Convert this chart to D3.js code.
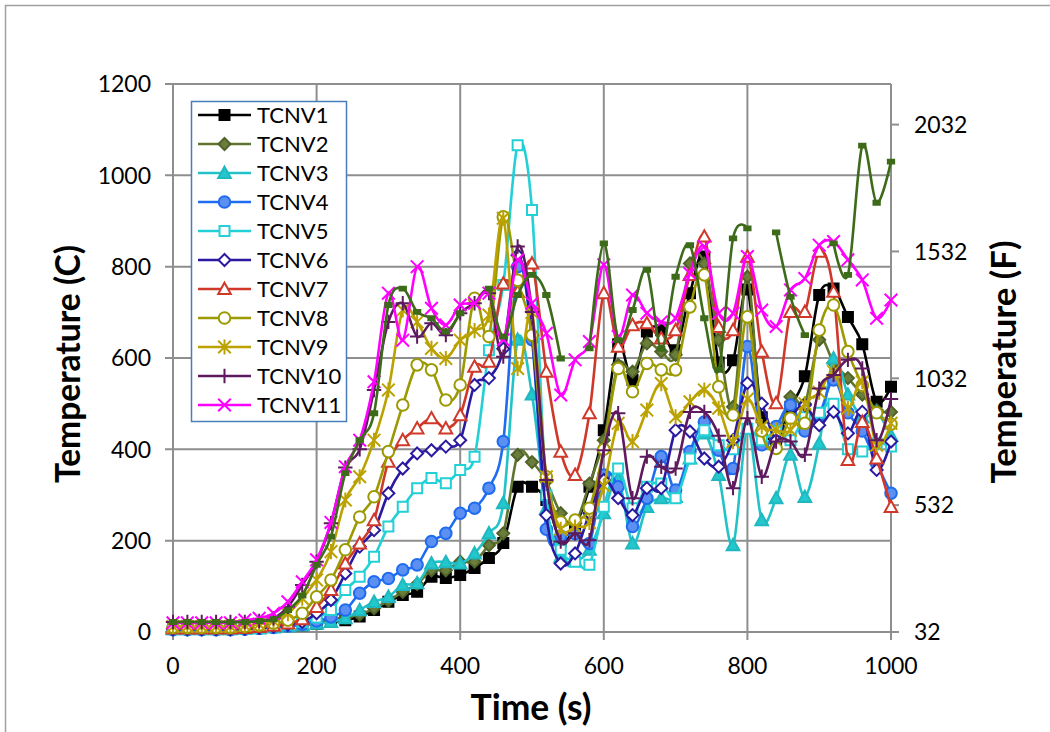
<!DOCTYPE html>
<html><head><meta charset="utf-8">
<script src="https://cdn.jsdelivr.net/npm/d3@7"></script>
<style>
body{margin:0;background:#fff;}
svg{display:block;}
text{font-family:Lato,"Open Sans",sans-serif;fill:#000;}
</style>
</head><body>
<svg id="chart" width="1050" height="732"></svg>
<script>
// ---------------- DATA ----------------
const time = [0,20,40,60,80,100,120,140,160,180,200,220,240,260,280,300,320,340,360,380,400,420,440,460,480,500,520,540,560,580,600,620,640,660,680,700,720,740,760,780,800,820,840,860,880,900,920,940,960,980,1000];

const tcnv1 = [10,10,10,10,10,10,11,12,13,15, 18,22,26,34,48,66,81,88,121,118, 125,140,162,195,318,318,289,200,230,318, 442,630,552,658,661,617,742,822,590,595, 750,470,420,493,560,738,752,690,630,504,537];
const tcnv2 = [8,8,8,8,8,9,10,12,14,17, 21,26,32,38,52,68,88,105,135,135, 154,154,190,216,388,372,330,260,238,325, 420,585,570,632,614,607,807,807,640,493, 778,440,420,515,500,640,590,556,520,486,482];
const tcnv3 = [6,6,6,6,6,7,8,10,12,15, 18,22,30,48,66,77,103,107,150,153, 150,172,216,282,640,520,270,165,155,180, 260,336,194,274,293,296,380,435,344,190, 446,245,293,388,296,413,599,520,470,480,430];
const tcnv4 = [5,5,5,5,5,6,8,10,13,17, 24,33,48,85,110,117,136,147,198,216, 260,271,315,417,800,640,225,210,215,194, 344,318,231,293,384,311,395,460,398,358, 625,410,450,497,440,475,552,480,440,369,304];
const tcnv5 = [6,6,6,6,6,7,9,12,16,22, 32,48,92,121,165,231,274,315,337,326, 355,384,617,760,1066,924,300,180,154,147, 274,358,271,318,325,293,380,442,409,400, 445,420,440,420,470,480,500,400,395,413,406];
const tcnv6 = [6,6,6,6,6,7,9,12,16,22, 41,70,128,187,223,304,358,391,398,406, 420,541,556,620,825,650,256,150,172,260, 333,293,256,315,315,442,439,380,362,420, 545,500,420,470,497,453,482,435,482,355,417];
const tcnv7 = [8,8,8,8,8,9,11,14,19,28, 55,92,150,194,245,373,420,446,468,446, 475,581,592,763,745,807,570,395,344,479, 742,625,672,676,643,661,782,866,668,661, 822,614,501,701,701,833,745,377,460,380,274];
const tcnv8 = [10,10,10,10,10,12,15,19,26,41, 77,114,180,252,296,395,497,585,574,508, 541,731,647,909,770,650,340,241,245,271, 400,577,526,588,574,574,712,782,537,475, 690,440,402,468,457,661,716,614,540,480,455];
const tcnv9 = [12,12,12,12,12,14,17,24,40,74, 114,176,289,340,420,530,705,679,621,599, 639,660,694,906,577,700,340,225,230,240, 320,457,417,486,544,471,504,530,490,417, 510,450,442,442,500,525,570,490,548,409,457];
const tcnv10 = [22,22,22,22,22,22,24,30,55,103, 154,238,360,400,530,679,720,647,676,650, 698,720,742,603,844,701,333,198,216,201, 398,479,293,384,362,358,482,482,430,315, 468,340,417,417,388,533,563,596,577,420,510];
const tcnv11 = [20,20,20,20,20,26,30,41,66,110, 158,240,362,420,548,742,639,800,709,672, 716,720,742,640,815,720,654,519,596,636, 804,647,738,698,679,687,785,844,698,698, 822,705,669,749,774,847,855,815,771,687,727];
// unlabelled dark-green trace (has gaps)
const tcnvExtra = [22,22,22,22,22,22,24,28,48,80, 147,209,348,420,479,716,752,701,687,658, 698,null,752,647,738,782,738,599,null,621, 851,639,705,793,620,778,847,687,574,862, 884,null,875,734,650,null,851,782,1065,940,1030];

const seriesNames = ["TCNV1","TCNV2","TCNV3","TCNV4","TCNV5","TCNV6","TCNV7","TCNV8","TCNV9","TCNV10","TCNV11"];
const xTicks = [0,200,400,600,800,1000];
const yTicksC = [0,200,400,600,800,1000,1200];
const yTicksF = [32,532,1032,1532,2032];

// ---------------- STYLE ----------------
const styles = [
  {line:"#000000", marker:"square",   fill:"#000000", stroke:"#000000"},
  {line:"#5f7530", marker:"diamond",  fill:"#6b7d3a", stroke:"#4f6228"},
  {line:"#22c3c8", marker:"triangle", fill:"#22c8cc", stroke:"#1fb8c0"},
  {line:"#1f6cf0", marker:"circle",   fill:"#5b8ff2", stroke:"#1f6cf0"},
  {line:"#22d0d6", marker:"square",   fill:"#ffffff", stroke:"#22d0d6"},
  {line:"#2b1aa0", marker:"diamond",  fill:"#ffffff", stroke:"#2b1aa0"},
  {line:"#d0382a", marker:"triangle", fill:"#ffffff", stroke:"#d0382a"},
  {line:"#9c9a00", marker:"circle",   fill:"#ffffff", stroke:"#9c9a00"},
  {line:"#bba200", marker:"asterisk", fill:"none",    stroke:"#bba200"},
  {line:"#5e1a5e", marker:"plus",     fill:"none",    stroke:"#5e1a5e"},
  {line:"#ff00ff", marker:"x",        fill:"none",    stroke:"#ff00ff"}
];
const extraStyle = {line:"#3d6b1a", marker:"bar", fill:"#3d6b1a", stroke:"#3d6b1a"};

const allData = [tcnv1,tcnv2,tcnv3,tcnv4,tcnv5,tcnv6,tcnv7,tcnv8,tcnv9,tcnv10,tcnv11];

// ---------------- LAYOUT ----------------
const svg = d3.select("#chart");
const pLeft = 173, pRight = 891, pTop = 84, pBottom = 632;
const x = d3.scaleLinear().domain([0,1000]).range([pLeft,pRight]);
const y = d3.scaleLinear().domain([0,1200]).range([pBottom,pTop]);
const yF = d3.scaleLinear().domain([32, 1200*1.8+32]).range([pBottom,pTop]);
const gridColor = "#8e8e8e";

// outer chart border
svg.append("rect").attr("x",5.5).attr("y",5.5).attr("width",1100).attr("height",800)
  .attr("fill","none").attr("stroke","#a0a0a0").attr("stroke-width",1.5);

// gridlines
const grid = svg.append("g");
grid.selectAll("line.h").data(yTicksC).join("line").attr("class","h")
  .attr("x1",pLeft-8).attr("x2",pRight).attr("y1",d=>y(d)).attr("y2",d=>y(d))
  .attr("stroke",gridColor).attr("stroke-width",2);
grid.selectAll("line.v").data(xTicks).join("line").attr("class","v")
  .attr("x1",d=>x(d)).attr("x2",d=>x(d)).attr("y1",pTop).attr("y2",pBottom+8)
  .attr("stroke",gridColor).attr("stroke-width",2);
grid.selectAll("line.r").data(yTicksF).join("line").attr("class","r")
  .attr("x1",pRight).attr("x2",pRight+8).attr("y1",d=>yF(d)).attr("y2",d=>yF(d))
  .attr("stroke",gridColor).attr("stroke-width",2);

// tick labels
const tickFont = 23;
svg.append("g").selectAll("text").data(yTicksC).join("text")
  .attr("x",151).attr("y",d=>y(d)).attr("dy","0.36em").attr("text-anchor","end")
  .style("font-size",tickFont+"px").text(d=>d);
svg.append("g").selectAll("text").data(xTicks).join("text")
  .attr("x",d=>x(d)).attr("y",666).attr("dy","0.36em").attr("text-anchor","middle")
  .style("font-size",tickFont+"px").text(d=>d);
svg.append("g").selectAll("text").data(yTicksF).join("text")
  .attr("x",914).attr("y",d=>yF(d)).attr("dy","0.36em").attr("text-anchor","start")
  .style("font-size",tickFont+"px").text(d=>d);

// axis titles (sized to match)
function fitTitle(sel, target){
  const w = sel.node().getComputedTextLength();
  const fs = parseFloat(sel.style("font-size"));
  if (w > 0) sel.style("font-size",(fs*target/w)+"px");
}
const tC = svg.append("text").attr("transform","translate(68,364) rotate(-90)")
  .attr("text-anchor","middle").attr("dy","0.36em")
  .style("font-size","32px").style("font-weight","bold").text("Temperature (C)");
fitTitle(tC,238);
const tF = svg.append("text").attr("transform","translate(1003,362) rotate(-90)")
  .attr("text-anchor","middle").attr("dy","0.36em")
  .style("font-size","32px").style("font-weight","bold").text("Temperature (F)");
fitTitle(tF,243);
const tX = svg.append("text").attr("x",531).attr("y",707).attr("dy","0.36em")
  .attr("text-anchor","middle").style("font-size","32px").style("font-weight","bold").text("Time (s)");
fitTitle(tX,121);

// ---------------- MARKERS ----------------
const shapes = {
  square:{draw(c,r){c.rect(-r,-r,2*r,2*r);}},
  diamond:{draw(c,r){r*=1.2;c.moveTo(0,-r);c.lineTo(r,0);c.lineTo(0,r);c.lineTo(-r,0);c.closePath();}},
  triangle:{draw(c,r){r*=1.15;c.moveTo(0,-r);c.lineTo(r,r*0.8);c.lineTo(-r,r*0.8);c.closePath();}},
  circle:{draw(c,r){r*=1.05;c.moveTo(r,0);c.arc(0,0,r,0,2*Math.PI);}},
  plus:{draw(c,r){r*=1.2;c.moveTo(-r,0);c.lineTo(r,0);c.moveTo(0,-r);c.lineTo(0,r);}},
  x:{draw(c,r){r*=1.05;c.moveTo(-r,-r);c.lineTo(r,r);c.moveTo(r,-r);c.lineTo(-r,r);}},
  asterisk:{draw(c,r){r*=1.05;c.moveTo(-r,-r);c.lineTo(r,r);c.moveTo(r,-r);c.lineTo(-r,r);c.moveTo(0,-r*1.2);c.lineTo(0,r*1.2);}},
  bar:{draw(c,r){c.rect(-r*0.9,-r*0.55,r*1.8,r*1.1);}}
};
const msize = {square:5, diamond:5, triangle:5.5, circle:5.5, plus:6, x:6, asterisk:6, bar:3.5};
function markerPath(kind){ return d3.symbol().type(shapes[kind]).size(msize[kind])(); }

const lineGen = d3.line().defined(d=>d.v!=null)
  .x(d=>x(d.t)).y(d=>y(d.v)).curve(d3.curveCatmullRom.alpha(0));

function drawSeries(values, st){
  const pts = time.map((t,i)=>({t, v: values[i]}));
  const g = svg.append("g");
  g.append("path").datum(pts).attr("d",lineGen).attr("fill","none")
    .attr("stroke",st.line).attr("stroke-width",2.6).attr("stroke-linejoin","round");
  g.selectAll("path.m").data(pts.filter(p=>p.v!=null)).join("path").attr("class","m")
    .attr("transform",d=>`translate(${x(d.t)},${y(d.v)})`)
    .attr("d",markerPath(st.marker))
    .attr("fill",st.fill).attr("stroke",st.stroke).attr("stroke-width",2);
}
allData.forEach((vals,i)=>drawSeries(vals, styles[i]));
drawSeries(tcnvExtra, extraStyle);

// ---------------- LEGEND ----------------
const leg = svg.append("g");
leg.append("rect").attr("x",191.5).attr("y",101.5).attr("width",155).attr("height",320)
  .attr("fill","#fff").attr("stroke","#4a7ebb").attr("stroke-width",1.5);
seriesNames.forEach((name,i)=>{
  const yy = 115 + i*29, st = styles[i];
  leg.append("line").attr("x1",198).attr("x2",251).attr("y1",yy).attr("y2",yy)
    .attr("stroke",st.line).attr("stroke-width",2.6);
  leg.append("path").attr("transform",`translate(224.5,${yy})`).attr("d",markerPath(st.marker))
    .attr("fill",st.fill).attr("stroke",st.stroke).attr("stroke-width",2);
  leg.append("text").attr("x",257).attr("y",yy).attr("dy","0.36em")
    .style("font-size","22px").text(name);
});
</script>
</body></html>
